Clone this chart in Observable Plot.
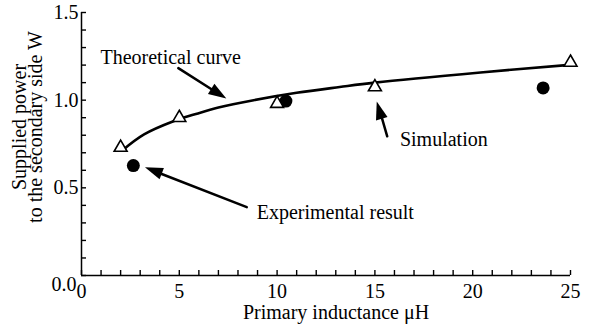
<!DOCTYPE html>
<html><head><meta charset="utf-8">
<script src="https://cdn.jsdelivr.net/npm/d3@7"></script>
<script src="https://cdn.jsdelivr.net/npm/@observablehq/plot@0.6"></script>
<style>
body{margin:0;background:#fff;}
svg{font-family:"Liberation Serif","Times New Roman",serif;}
</style>
</head><body><div id="chart"></div>
<script>
// Simulation (open triangles)
const simX = [2, 5, 10, 15, 25];
const simY = [0.73, 0.90, 0.98, 1.075, 1.215];
// Experimental result (filled circles)
const expX = [2.65, 10.45, 23.6];
const expY = [0.627, 0.995, 1.07];
// Theoretical curve
const curveX = [2.1, 3.2, 4.7, 5.9, 7.0, 8.8, 11.0, 13.2, 15.0, 20.4, 24.8];
const curveY = [0.715, 0.805, 0.88, 0.923, 0.958, 1.0, 1.042, 1.075, 1.10, 1.158, 1.20];
// Annotation arrows (data coordinates: tail -> tip)
const arrowX1 = [4.95, 15.63, 8.45];
const arrowY1 = [1.183, 0.794, 0.39];
const arrowX2 = [7.43, 15.12, 3.27];
const arrowY2 = [1.006, 0.99, 0.615];
// Annotation labels
const labelText = ["Theoretical curve", "Simulation", "Experimental result"];
const labelX = [0.97, 16.28, 8.96];
const labelY = [1.24, 0.775, 0.356];
// Ticks
const xTickValues = [0, 5, 10, 15, 20, 25];
const xMinorTicks = [0,1,2,3,4,5,6,7,8,9,10,11,12,13,14,15,16,17,18,19,20,21,22,23,24,25];
const yTickValues = [0.5, 1.0, 1.5];
const yZeroTick = [0];
const yMinorTicks = [0,0.1,0.2,0.3,0.4,0.5,0.6,0.7,0.8,0.9,1.0,1.1,1.2,1.3,1.4,1.5];

const sim = simX.map((x, i) => ({x, y: simY[i]}));
const exp = expX.map((x, i) => ({x, y: expY[i]}));
const curve = curveX.map((x, i) => ({x, y: curveY[i]}));
const arrows = arrowX1.map((x1, i) => ({x1, y1: arrowY1[i], x2: arrowX2[i], y2: arrowY2[i]}));
const labels = labelText.map((t, i) => ({t, x: labelX[i], y: labelY[i]}));

const W = 592, H = 331, mL = 81, mR = 22, mT = 12, mB = 56;
const headLen = 18, headHalf = 6, tickLen = 5;
const frameW = W - mL - mR, frameH = H - mT - mB;

const plot = Plot.plot({
  width: W, height: H,
  marginLeft: mL, marginRight: mR, marginTop: mT, marginBottom: mB,
  style: {fontFamily: "'Liberation Serif', 'Times New Roman', serif", fontSize: "20px", background: "white", color: "black", overflow: "visible"},
  x: {domain: [0, 25]},
  y: {domain: [0, 1.5]},
  marks: [
    Plot.tickX(xMinorTicks, {x: d => d, insetTop: frameH - tickLen, stroke: "black", strokeWidth: 1.4}),
    Plot.tickY(yMinorTicks, {y: d => d, insetRight: frameW - tickLen, stroke: "black", strokeWidth: 1.4}),
    Plot.ruleY([0], {strokeWidth: 1.5}),
    Plot.ruleX([0], {strokeWidth: 1.5}),
    Plot.axisX({ticks: xTickValues, tickSize: 0, tickPadding: 8, tickFormat: d => String(d), label: null, fontSize: 20}),
    Plot.axisY({ticks: yTickValues, tickSize: 0, tickPadding: 3, tickFormat: d => d.toFixed(1), label: null, fontSize: 20}),
    Plot.axisY({ticks: yZeroTick, tickSize: 0, tickPadding: 5, dy: 9, tickFormat: d => d.toFixed(1), label: null, fontSize: 20}),
    Plot.text(["Primary inductance \u03bcH"], {frameAnchor: "bottom", dx: 10, dy: 43, fontSize: 20, fill: "black"}),
    Plot.text(["Supplied power\nto the secondary side W"], {frameAnchor: "left", textAnchor: "middle", rotate: -90, dx: -53, dy: -17, fontSize: 20, fill: "black", lineHeight: 0.82}),
    Plot.line(curve, {x: "x", y: "y", curve: "catmull-rom", strokeWidth: 2.6, stroke: "black"}),
    Plot.dot(exp, {x: "x", y: "y", r: 6.5, fill: "black", stroke: "none"}),
    Plot.dot(sim, {x: "x", y: "y", symbol: "triangle", r: 4.8, fill: "white", stroke: "black", strokeWidth: 1.6}),
    Plot.arrow(arrows, {x1: "x1", y1: "y1", x2: "x2", y2: "y2", headLength: 0, insetEnd: 14, strokeWidth: 2.5, stroke: "black"}),
    (index, scales) => {
      const g = d3.create("svg:g");
      arrows.forEach(a => {
        const X1 = scales.x(a.x1), Y1 = scales.y(a.y1), X2 = scales.x(a.x2), Y2 = scales.y(a.y2);
        const dx = X2 - X1, dy = Y2 - Y1, L = Math.hypot(dx, dy);
        const ux = dx / L, uy = dy / L, nx = -uy, ny = ux;
        const bx = X2 - headLen * ux, by = Y2 - headLen * uy;
        g.append("path")
          .attr("d", `M${X2},${Y2}L${bx + headHalf * nx},${by + headHalf * ny}L${bx - headHalf * nx},${by - headHalf * ny}Z`)
          .attr("fill", "black");
      });
      return g.node();
    },
    Plot.text(labels, {x: "x", y: "y", text: "t", textAnchor: "start", fontSize: 20, fill: "black"})
  ]
});
document.getElementById("chart").appendChild(plot);
</script>
</body></html>
